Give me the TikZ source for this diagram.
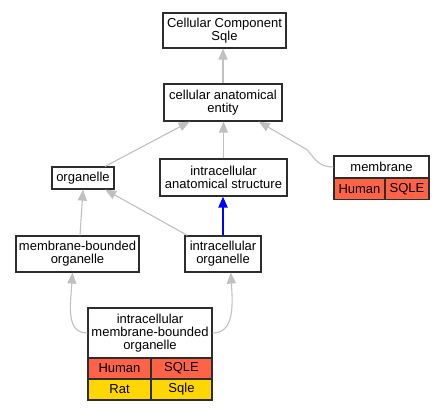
\documentclass[tikz,border=0pt]{standalone}
\usepackage{fontspec}
\setmainfont{Liberation Sans}
\usetikzlibrary{arrows.meta,calc}
\definecolor{edgegray}{RGB}{192,192,192}
\definecolor{boxline}{RGB}{45,45,45}
\definecolor{tomatored}{RGB}{255,99,71}
\definecolor{goldyel}{RGB}{255,215,0}
\definecolor{edgeblue}{RGB}{0,0,255}
\begin{document}
\begin{tikzpicture}[x=1pt,y=-1pt,
  every node/.style={font=\fontsize{13}{13}\selectfont, inner sep=0pt, align=center},
  termbox/.style={draw=boxline, line width=1.2pt, fill=white, minimum width=#1},
  cellred/.style={draw=boxline, line width=1.2pt, fill=tomatored, minimum height=21pt},
  cellyel/.style={draw=boxline, line width=1.2pt, fill=goldyel, minimum height=21pt},
  isa/.style={draw=edgegray, line width=1.1pt, -{Triangle[length=11pt,width=9pt]}},
  partof/.style={draw=edgeblue, line width=2pt, -{Triangle[length=11pt,width=9pt]}}
]
\useasboundingbox (0,0) rectangle (444,411);

% plain boxes
\node[termbox=123pt, minimum height=35pt] (cc) at (224.5,30.5) {Cellular Component\\Sqle};
\node[termbox=118pt, minimum height=37pt] (ent) at (223,102.5) {cellular anatomical\\entity};
\node[termbox=62pt, minimum height=22pt] (org) at (83,178) {organelle};
\node[termbox=127pt, minimum height=37pt] (ias) at (223.5,177.5) {intracellular\\anatomical structure};
\node[termbox=123pt, minimum height=36pt] (mbo) at (77.5,254) {membrane-bounded\\organelle};
\node[termbox=76pt, minimum height=36pt] (io) at (223,254) {intracellular\\organelle};

% membrane table
\node[termbox=95pt, minimum height=22pt] (memh) at (381.5,167) {membrane};
\node[cellred, minimum width=51pt] (memha) at (359.5,189) {Human};
\node[cellred, minimum width=44pt] (memhb) at (407,189) {SQLE};

% intracellular membrane-bounded organelle table
\node[termbox=124pt, minimum height=50pt] (imh) at (150,333) {intracellular\\membrane-bounded\\organelle};
\node[cellred, minimum width=63pt] (imha) at (119.5,368.5) {Human};
\node[cellred, minimum width=61pt] (imhb) at (181.5,368.5) {SQLE};
\node[cellyel, minimum width=63pt] (imra) at (119.5,389.5) {Rat};
\node[cellyel, minimum width=61pt] (imrb) at (181.5,389.5) {Sqle};

% edges
\draw[isa] (ent.north) -- (ent.north |- cc.south);
\draw[isa] ($(org.north)!0.7!(org.north east)$) -- ($(ent.south west)!0.22!(ent.south east)$);
\draw[isa] (ias.north) -- (ias.north |- ent.south);
\draw[isa] (memh.west) .. controls +(-14,0) and +(8,10) .. ($(memh.west)+(-26,-17)$) -- ($(ent.south west)!0.8!(ent.south east)$);
\draw[isa] ($(mbo.north)+(2.5,0)$) -- (org.south);
\draw[isa] ($(io.north west)+(3,0)$) -- ($(org.south west)!0.85!(org.south east)$);
\draw[partof] (io.north) -- (io.north |- ias.south);
\draw[isa] (imh.west) .. controls +(-22,0) and +(-2,32) .. ($(mbo.south west)!0.46!(mbo.south east)$);
\draw[isa] (imh.east) .. controls +(22,0) and +(2,32) .. ($(io.south west)!0.6!(io.south east)$);
\end{tikzpicture}
\end{document}
